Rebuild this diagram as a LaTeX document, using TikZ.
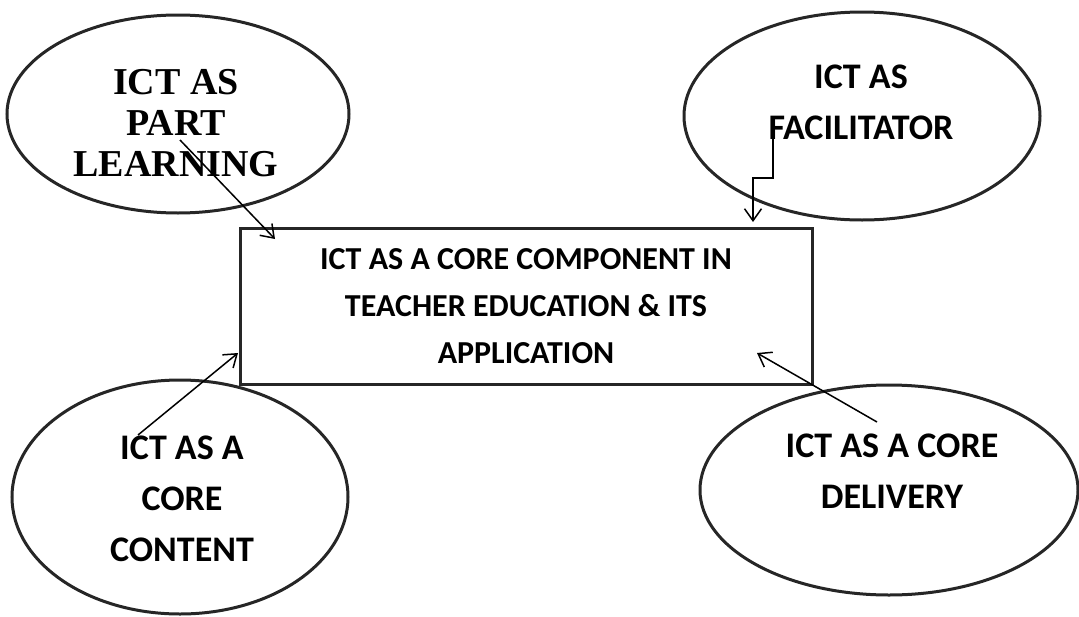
\documentclass[tikz,border=0pt]{standalone}
\usepackage{fontspec}
\usetikzlibrary{shapes.geometric,arrows.meta,calc}
\newfontfamily\labelsans{Carlito}
\newfontfamily\labelserif{Liberation Serif}
\begin{document}
\begin{tikzpicture}[x=1pt,y=-1pt,
  bubble/.style={draw=black!85,ellipse,line width=3pt,inner sep=0pt},
  sanslbl/.style={align=center,font=\labelsans\bfseries\fontsize{36}{51}\selectfont},
  seriflbl/.style={align=center,font=\labelserif\bfseries\fontsize{38}{41}\selectfont},
  corebox/.style={draw=black!85,line width=3pt,minimum width=572pt,minimum height=156pt,
    inner sep=0pt,align=center,font=\labelsans\bfseries\fontsize{32}{47}\selectfont},
  link/.style={line width=1.5pt,-{Straight Barb[length=12pt,width=17pt,line width=1.5pt]}}]
\useasboundingbox (0,0) rectangle (1079,616);

% central box
\node[corebox] (core) at (526,306) {ICT AS A CORE COMPONENT IN\\TEACHER EDUCATION \& ITS\\APPLICATION};

% surrounding ellipses
\node[bubble,minimum width=342pt,minimum height=198pt] (pl) at (178,114) {};
\node[seriflbl] (plt) at (176,123) {ICT AS\\PART\\LEARNING};

\node[bubble,minimum width=356pt,minimum height=208pt] (fa) at (862,116) {};
\node[sanslbl] (fat) at (861,102) {ICT AS\\FACILITATOR};

\node[bubble,minimum width=336pt,minimum height=234pt] (cc) at (180,497) {};
\node[sanslbl] (cct) at (182,499) {ICT AS A\\CORE\\CONTENT};

\node[bubble,minimum width=378pt,minimum height=210pt] (cd) at (889,490) {};
\node[sanslbl] (cdt) at (892,471) {ICT AS A CORE\\DELIVERY};

% connector end points
\coordinate (plS) at (180,140);
\coordinate (plE) at (275,239);
\coordinate (faS) at (773,130);
\coordinate (faE) at (753,222);
\coordinate (ccS) at (138,435);
\coordinate (ccE) at (238,353);
\coordinate (cdS) at (877,422);
\coordinate (cdE) at (757,353);

% connectors
\draw[link] (plS) -- (plE);
\draw[link] (faS) -- ++(0,48) -| (faE);
\draw[link] (ccS) -- (ccE);
\draw[link] (cdS) -- (cdE);
\end{tikzpicture}
\end{document}
